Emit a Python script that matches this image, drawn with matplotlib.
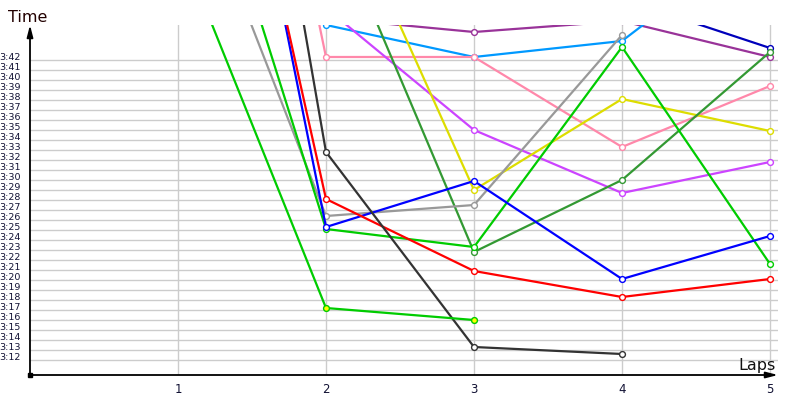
import numpy as np
import matplotlib
matplotlib.use("Agg")
import matplotlib.pyplot as plt

nan = np.nan

# lap numbers and lap times in seconds
laps = [1, 2, 3, 4, 5]

green_y = [234.0, 197.2, 196.0, nan, nan]
gray = [244.3, 206.4, 207.5, 224.5, nan]
green = [252.1, 205.1, 203.3, 223.3, 201.6]
dark_green = [nan, 237.7, 202.8, 210.0, 222.8]
blue = [279.0, 205.3, 209.9, 200.1, 204.4]
red = [274.4, 208.1, 200.9, 198.3, 200.1]
black = [297.9, 212.8, 193.3, 192.6, nan]
pink = [293.7, 222.3, 222.3, 213.3, 219.4]
light_blue = [nan, 225.5, 222.3, 223.9, 235.2]
purple = [nan, 226.2, 224.8, 225.9, 222.3]
violet = [nan, 227.2, 215.0, 208.7, 211.8]
yellow = [nan, 241.9, 209.0, 218.1, 214.9]
dark_blue = [nan, nan, nan, 228.1, 223.2]

y_ticks = list(range(192, 223))
y_labels = ["%d:%02d" % (t // 60, t % 60) for t in y_ticks]
x_ticks = [1, 2, 3, 4, 5]

series = [
    (dark_blue, "#0000bb", "white"),
    (purple, "#993399", "white"),
    (light_blue, "#0099ff", "white"),
    (pink, "#ff88aa", "white"),
    (violet, "#cc44ff", "white"),
    (yellow, "#dddd00", "white"),
    (dark_green, "#339933", "white"),
    (gray, "#999999", "white"),
    (green, "#00cc00", "white"),
    (blue, "#0000ff", "white"),
    (red, "#ff0000", "white"),
    (black, "#333333", "white"),
    (green_y, "#00cc00", "#ffff00"),
]

fig = plt.figure(figsize=(8, 4), dpi=100)
ax = fig.add_axes([30 / 800, 25 / 400, 748 / 800, 350 / 400])

for vals, col, face in series:
    ax.plot(laps, vals, color=col, lw=1.6, marker="o", ms=4.2,
            mfc=face, mec=col, mew=1.0, zorder=3)

ax.set_xlim(0, 748 / 148)
ax.set_ylim(190.5, 225.5)

ax.set_yticks(y_ticks)
ax.set_yticklabels(y_labels, fontsize=6.8, va="baseline", color="#111133")
ax.set_xticks(x_ticks)
ax.set_xticklabels([str(x) for x in x_ticks], fontsize=8.5, color="#111133")
ax.tick_params(axis="y", length=0, pad=6.5)
ax.tick_params(axis="x", length=0, pad=6)

ax.grid(True, color="#cccccc", lw=1.0, zorder=0)
ax.set_axisbelow(True)
for s in ax.spines.values():
    s.set_visible(False)

# axes with arrows
ax.annotate("", xy=(0, 1.0), xytext=(0, 0), xycoords="axes fraction",
            arrowprops=dict(arrowstyle="-|>,head_length=0.7,head_width=0.18",
                            color="black", lw=1.3, shrinkA=0, shrinkB=0))
ax.annotate("", xy=(1.0, 0), xytext=(0, 0), xycoords="axes fraction",
            arrowprops=dict(arrowstyle="-|>,head_length=0.7,head_width=0.18",
                            color="black", lw=1.3, shrinkA=0, shrinkB=0))
ax.plot([0], [190.5], marker="s", ms=3.5, color="black", clip_on=False, zorder=5)

fig.text(8 / 800, 1 - 22 / 400, "Time", fontsize=11.5, color="#220000", va="baseline")
fig.text(776 / 800, 1 - 370 / 400, "Laps", fontsize=11.5, color="#111111",
         ha="right", va="baseline")

fig.savefig("out.png", dpi=100)
